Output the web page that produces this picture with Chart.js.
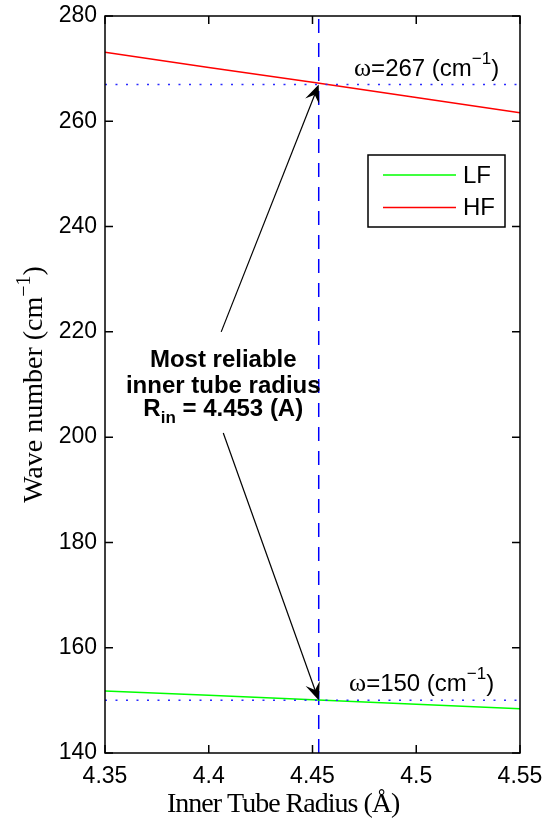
<!DOCTYPE html>
<html>
<head>
<meta charset="utf-8">
<script src="https://cdn.jsdelivr.net/npm/chart.js@4.4.0/dist/chart.umd.min.js"></script>
<style>
  html, body { margin: 0; padding: 0; background: #fff; }
  #wrap { width: 547px; height: 822px; }
</style>
</head>
<body>
<div id="wrap"><canvas id="chart" width="547" height="822"></canvas></div>
<script>
// Data
const radius = [4.35, 4.40, 4.45, 4.50, 4.55];
const lfWave = [151.8, 150.95, 150.1, 149.25, 148.4];
const hfWave = [273.1, 270.2, 267.4, 264.5, 261.6];
const seriesNames = ['LF', 'HF'];
const bestRadius = 4.453;
const markWave = [267, 150];
const xTicks = [4.35, 4.4, 4.45, 4.5, 4.55];
const yTicks = [140, 160, 180, 200, 220, 240, 260, 280];

const SANS = '"Liberation Sans", Arial, sans-serif';
const SERIF = '"Liberation Serif", "Times New Roman", serif';

// Annotation anchors (data units)
const arrowTails = [{ x: 4.406, y: 220 }, { x: 4.407, y: 200.8 }];
const noteAnchor = { x: 4.407, y: 210 };
const omegaAnchors = [{ x: 4.47, y: 268.6 }, { x: 4.4676, y: 151.7 }];

const xy = (xs, ys) => xs.map((v, i) => ({ x: v, y: ys[i] }));

function drawRich(ctx, parts, x, y, align) {
  const widths = parts.map(p => { ctx.font = p.font; return ctx.measureText(p.text).width; });
  const total = widths.reduce((s, w) => s + w, 0);
  let cx = align === 'center' ? x - total / 2 : x;
  ctx.textAlign = 'left';
  ctx.textBaseline = 'alphabetic';
  parts.forEach((p, i) => {
    ctx.font = p.font;
    ctx.fillText(p.text, cx, y + (p.dy || 0));
    cx += widths[i];
  });
}

function drawArrow(ctx, x0, y0, x1, y1) {
  const ang = Math.atan2(y1 - y0, x1 - x0);
  const L = 18, W = 7.5, notch = 11;
  ctx.beginPath();
  ctx.moveTo(x0, y0);
  ctx.lineTo(x1 - Math.cos(ang) * notch, y1 - Math.sin(ang) * notch);
  ctx.stroke();
  ctx.save();
  ctx.translate(x1, y1);
  ctx.rotate(ang);
  ctx.beginPath();
  ctx.moveTo(0, 0);
  ctx.lineTo(-L, -W);
  ctx.lineTo(-notch, 0);
  ctx.lineTo(-L, W);
  ctx.closePath();
  ctx.fill();
  ctx.restore();
}

const overlay = {
  id: 'overlay',
  afterDatasetsDraw(chart) {
    const { ctx, chartArea: a, scales: { x, y } } = chart;
    ctx.save();
    ctx.strokeStyle = '#000';
    ctx.fillStyle = '#000';
    ctx.lineWidth = 1.5;

    // axes box + inward ticks
    ctx.strokeRect(a.left, a.top, a.right - a.left, a.bottom - a.top);
    ctx.beginPath();
    xTicks.forEach(v => {
      const px = x.getPixelForValue(v);
      ctx.moveTo(px, a.bottom); ctx.lineTo(px, a.bottom - 8);
      ctx.moveTo(px, a.top); ctx.lineTo(px, a.top + 8);
    });
    yTicks.forEach(v => {
      const py = y.getPixelForValue(v);
      ctx.moveTo(a.left, py); ctx.lineTo(a.left + 8, py);
      ctx.moveTo(a.right, py); ctx.lineTo(a.right - 8, py);
    });
    ctx.stroke();

    // legend
    const lx = a.right - 152, ly = a.top + 139, lw = 137, lh = 72;
    ctx.fillStyle = '#fff';
    ctx.fillRect(lx, ly, lw, lh);
    ctx.strokeStyle = '#000';
    ctx.strokeRect(lx, ly, lw, lh);
    chart.data.datasets.filter(d => seriesNames.includes(d.label)).forEach((d, i) => {
      const ry = ly + 20 + i * 32.5;
      ctx.strokeStyle = d.borderColor;
      ctx.lineWidth = 1.5;
      ctx.beginPath();
      ctx.moveTo(lx + 15, ry); ctx.lineTo(lx + 88, ry);
      ctx.stroke();
      ctx.fillStyle = '#000';
      ctx.font = '24px ' + SANS;
      ctx.textAlign = 'left';
      ctx.textBaseline = 'middle';
      ctx.fillText(d.label, lx + 95, ry + 1);
    });

    // arrows
    ctx.strokeStyle = '#000';
    ctx.fillStyle = '#000';
    ctx.lineWidth = 1.2;
    markWave.forEach((w, i) => {
      drawArrow(ctx, x.getPixelForValue(arrowTails[i].x), y.getPixelForValue(arrowTails[i].y),
        x.getPixelForValue(bestRadius), y.getPixelForValue(w));
    });

    // note text
    const nx = x.getPixelForValue(noteAnchor.x), ny = y.getPixelForValue(noteAnchor.y);
    const bold = 'bold 24px ' + SANS;
    drawRich(ctx, [{ text: 'Most reliable', font: bold }], nx, ny - 18, 'center');
    drawRich(ctx, [{ text: 'inner tube radius', font: bold }], nx, ny + 8.5, 'center');
    drawRich(ctx, [
      { text: 'R', font: bold },
      { text: 'in', font: 'bold 17px ' + SANS, dy: 7 },
      { text: ' = ' + bestRadius.toFixed(3) + ' (A)', font: bold }
    ], nx, ny + 31, 'center');

    // omega labels
    markWave.forEach((w, i) => {
      drawRich(ctx, [
        { text: 'ω', font: '26px ' + SERIF },
        { text: '=' + w + ' (cm', font: '24px ' + SANS },
        { text: '−1', font: '17px ' + SANS, dy: -12 },
        { text: ')', font: '24px ' + SANS }
      ], x.getPixelForValue(omegaAnchors[i].x), y.getPixelForValue(omegaAnchors[i].y), 'left');
    });

    // axis titles
    ctx.letterSpacing = '-1px';
    drawRich(ctx, [{ text: 'Inner Tube Radius (Å)', font: '28px ' + SERIF }], 167, 812, 'left');
    ctx.letterSpacing = '0px';
    ctx.translate(42, (a.top + a.bottom) / 2);
    ctx.rotate(-Math.PI / 2);
    drawRich(ctx, [
      { text: 'Wave number (cm', font: '28px ' + SERIF },
      { text: '−1', font: '20px ' + SERIF, dy: -12 },
      { text: ')', font: '28px ' + SERIF }
    ], 0, 0, 'center');
    ctx.restore();
  }
};

const lineBase = { showLine: true, pointRadius: 0, fill: false, tension: 0 };
const noPad = s => { s.paddingLeft = 0; s.paddingRight = 0; s.paddingTop = 0; s.paddingBottom = 0; };

new Chart(document.getElementById('chart'), {
  type: 'scatter',
  data: {
    datasets: [
      ...markWave.map(w => ({
        ...lineBase, label: 'mark' + w,
        data: [{ x: xTicks[0], y: w }, { x: xTicks[xTicks.length - 1], y: w }],
        borderColor: '#2a2aff', borderWidth: 1.5, borderDash: [2, 8.5]
      })),
      { ...lineBase, label: seriesNames[0], data: xy(radius, lfWave), borderColor: '#00ff00', borderWidth: 1.5 },
      { ...lineBase, label: seriesNames[1], data: xy(radius, hfWave), borderColor: '#ff0000', borderWidth: 1.5 },
      {
        ...lineBase, label: 'best',
        data: [{ x: bestRadius, y: yTicks[0] }, { x: bestRadius, y: yTicks[yTicks.length - 1] }],
        borderColor: '#0000ff', borderWidth: 1.5, borderDash: [14, 10]
      }
    ]
  },
  options: {
    responsive: false,
    animation: false,
    devicePixelRatio: 1,
    layout: { padding: { left: 0, right: 27, top: 16, bottom: 0 } },
    plugins: { legend: { display: false }, tooltip: { enabled: false } },
    scales: {
      x: {
        type: 'linear', min: 4.35, max: 4.55,
        afterBuildTicks: s => { s.ticks = xTicks.map(v => ({ value: v })); },
        afterFit: s => { s.height = 69; noPad(s); },
        grid: { display: false, drawTicks: false },
        border: { display: false },
        ticks: {
          color: '#000', font: { family: SANS, size: 23 }, padding: 10,
          maxRotation: 0, autoSkip: false, callback: v => String(v)
        }
      },
      y: {
        type: 'linear', min: 140, max: 280,
        afterBuildTicks: s => { s.ticks = yTicks.map(v => ({ value: v })); },
        afterFit: s => { s.width = 105; noPad(s); },
        grid: { display: false, drawTicks: false },
        border: { display: false },
        ticks: { color: '#000', font: { family: SANS, size: 23 }, padding: 8, autoSkip: false }
      }
    }
  },
  plugins: [overlay]
});
</script>
</body>
</html>
